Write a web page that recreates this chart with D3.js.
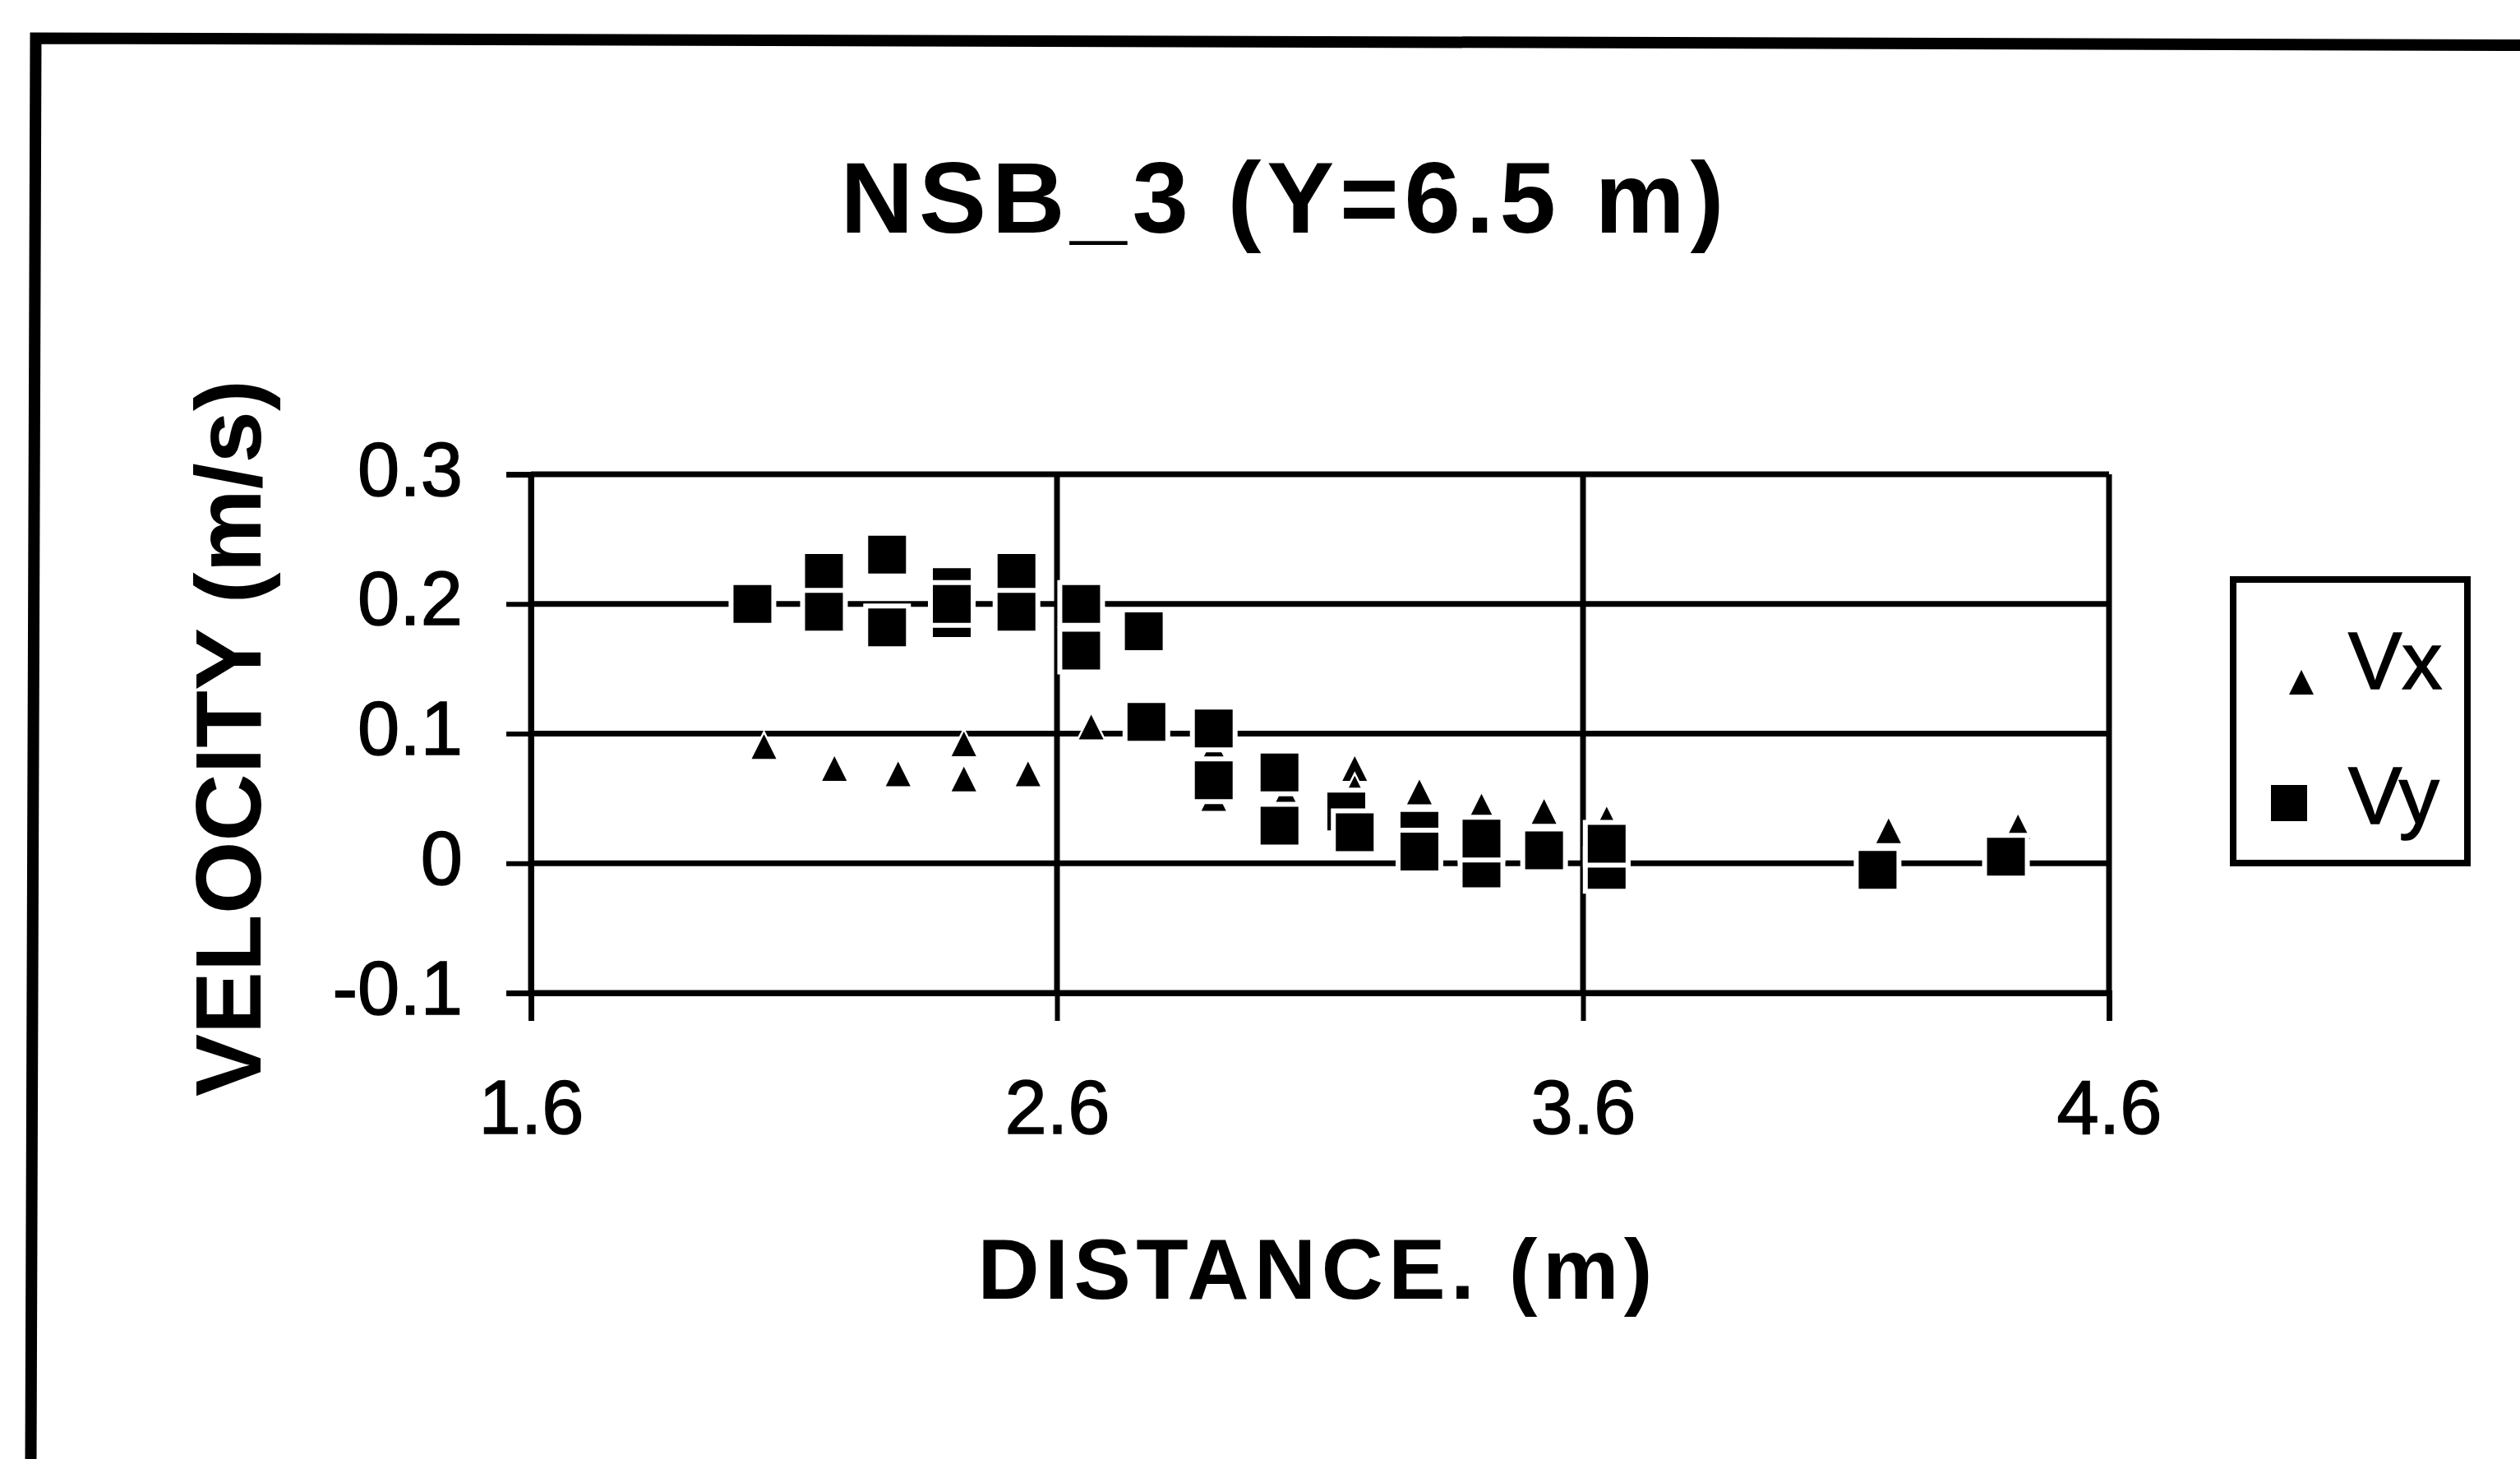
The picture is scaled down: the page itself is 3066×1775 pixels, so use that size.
<!DOCTYPE html>
<html>
<head>
<meta charset="utf-8">
<script src="https://cdn.jsdelivr.net/npm/d3@7"></script>
<style>
  html, body { margin: 0; padding: 0; background: #fff; }
  svg { display: block; }
</style>
</head>
<body>
<script>
// ---------- data ----------
const title = "NSB_3 (Y=6.5 m)";
const xLabel = "DISTANCE. (m)";
const yLabel = "VELOCITY (m/s)";
const seriesNames = ["Vx", "Vy"];

const xTicks = [1.6, 2.6, 3.6, 4.6];
const yTicks = [-0.1, 0, 0.1, 0.2, 0.3];
const yTickLabels = ["-0.1", "0", "0.1", "0.2", "0.3"];
const xTickLabels = ["1.6", "2.6", "3.6", "4.6"];

const vxDistance = [2.043, 2.177, 2.298, 2.423, 2.423, 2.545, 2.665, 2.77, 2.898, 2.898, 3.035, 3.166, 3.166, 3.289, 3.407, 3.526, 3.645, 4.181, 4.427];
const vxVelocity = [0.090, 0.073, 0.069, 0.092, 0.065, 0.069, 0.105, 0.115, 0.088, 0.050, 0.053, 0.073, 0.058, 0.055, 0.044, 0.040, 0.034, 0.025, 0.028];

const vyDistance = [2.021, 2.157, 2.157, 2.277, 2.277, 2.400, 2.400, 2.400, 2.523, 2.523, 2.646, 2.646, 2.765, 2.770, 2.898, 2.898, 3.023, 3.023, 3.150, 3.166, 3.289, 3.289, 3.407, 3.407, 3.526, 3.645, 3.645, 4.160, 4.404];
const vyVelocity = [0.200, 0.224, 0.194, 0.238, 0.182, 0.213, 0.189, 0.200, 0.224, 0.194, 0.200, 0.164, 0.179, 0.109, 0.104, 0.064, 0.070, 0.029, 0.040, 0.024, 0.025, 0.009, -0.004, 0.019, 0.010, -0.005, 0.015, -0.005, 0.005];

// ---------- layout ----------
const W = 3066, H = 1775;
const plot = { left: 646, right: 2566, top: 577, bottom: 1208 };
const font = "'Liberation Sans', Arial, sans-serif";

const svg = d3.select("body").append("svg").attr("width", W).attr("height", H);
svg.append("rect").attr("width", W).attr("height", H).attr("fill", "#fff");

// outer (cut) frame
svg.append("path")
  .attr("d", "M37.5,1780 L43.5,46.5 L3070,55")
  .attr("fill", "none").attr("stroke", "#000").attr("stroke-width", 14)
  .attr("stroke-linejoin", "miter");

const x = d3.scaleLinear().domain([1.6, 4.6]).range([plot.left, plot.right]);
const y = d3.scaleLinear().domain([-0.1, 0.3]).range([plot.bottom, plot.top]);

// gridlines
const grid = svg.append("g").attr("stroke", "#000").attr("stroke-width", 7);
grid.selectAll("line.h").data(yTicks).join("line")
  .attr("x1", plot.left).attr("x2", plot.right)
  .attr("y1", d => y(d)).attr("y2", d => y(d));
grid.selectAll("line.v").data(xTicks).join("line")
  .attr("y1", plot.top).attr("y2", plot.bottom)
  .attr("x1", d => x(d)).attr("x2", d => x(d));

// axes
const yAxis = svg.append("g").attr("transform", `translate(${plot.left},0)`)
  .call(d3.axisLeft(y).tickValues(yTicks).tickSize(30).tickPadding(54)
    .tickFormat((d, i) => yTickLabels[i]));
const xAxis = svg.append("g").attr("transform", `translate(0,${plot.bottom})`)
  .call(d3.axisBottom(x).tickValues(xTicks).tickSize(34).tickPadding(36)
    .tickFormat((d, i) => xTickLabels[i]));

[yAxis, xAxis].forEach(g => {
  g.select(".domain").attr("stroke", "#000").attr("stroke-width", 7);
  g.selectAll(".tick line").attr("stroke", "#000").attr("stroke-width", 6);
  g.selectAll(".tick text")
    .attr("fill", "#000").attr("stroke", "#000").attr("stroke-width", 1.5)
    .style("font-family", font).style("font-size", "92px");
});
yAxis.selectAll(".tick text").attr("dy", "25px").attr("x", -83);
xAxis.selectAll(".tick text").attr("dy", "0").attr("y", 171)
  .attr("dominant-baseline", "auto");

// marker shapes
const triType = {
  draw(ctx, size) {
    const w = 15, h = 15;
    ctx.moveTo(0, -h);
    ctx.lineTo(w, h);
    ctx.lineTo(-w, h);
    ctx.closePath();
  }
};

// Vx triangles (drawn first, squares overlap them)
svg.append("g").selectAll("path").data(vxDistance).join("path")
  .attr("d", d3.symbol().type(triType))
  .attr("transform", (d, i) => `translate(${x(d)},${y(vxVelocity[i])})`)
  .attr("fill", "#000").attr("stroke", "#fff").attr("stroke-width", 5)
  .attr("paint-order", "stroke");

// Vy squares
svg.append("g").selectAll("path").data(vyDistance).join("path")
  .attr("d", d3.symbol().type(d3.symbolSquare).size(46 * 46))
  .attr("transform", (d, i) => `translate(${x(d)},${y(vyVelocity[i])})`)
  .attr("fill", "#000").attr("stroke", "#fff").attr("stroke-width", 12)
  .attr("paint-order", "stroke");

// titles
svg.append("text").text(title)
  .attr("x", 1560).attr("y", 283).attr("text-anchor", "middle")
  .attr("textLength", 1075).attr("lengthAdjust", "spacing")
  .style("font-family", font).style("font-weight", "bold").style("font-size", "123px");

svg.append("text").text(xLabel)
  .attr("x", 1600).attr("y", 1580).attr("text-anchor", "middle")
  .attr("textLength", 821).attr("lengthAdjust", "spacing")
  .style("font-family", font).style("font-weight", "bold").style("font-size", "104px");

svg.append("text").text(yLabel)
  .attr("transform", "translate(317,898) rotate(-90)")
  .attr("text-anchor", "middle")
  .attr("textLength", 872).attr("lengthAdjust", "spacing")
  .style("font-family", font).style("font-weight", "bold").style("font-size", "114px");

// legend
const lg = svg.append("g");
lg.append("rect").attr("x", 2717).attr("y", 705).attr("width", 285).attr("height", 345)
  .attr("fill", "#fff").attr("stroke", "#000").attr("stroke-width", 8);
const legendMarks = [
  { name: seriesNames[0], type: triType, size: 0, mx: 2800, my: 830, ty: 838 },
  { name: seriesNames[1], type: d3.symbolSquare, size: 44 * 44, mx: 2785, my: 977, ty: 1002 }
];
lg.selectAll("path").data(legendMarks).join("path")
  .attr("d", d => d3.symbol().type(d.type).size(d.size)())
  .attr("transform", d => `translate(${d.mx},${d.my})`)
  .attr("fill", "#000");
lg.selectAll("text").data(legendMarks).join("text")
  .text(d => d.name)
  .attr("x", 2857).attr("y", d => d.ty)
  .attr("fill", "#000").attr("stroke", "#000").attr("stroke-width", 1.5)
  .style("font-family", font).style("font-size", "98px");
</script>
</body>
</html>
